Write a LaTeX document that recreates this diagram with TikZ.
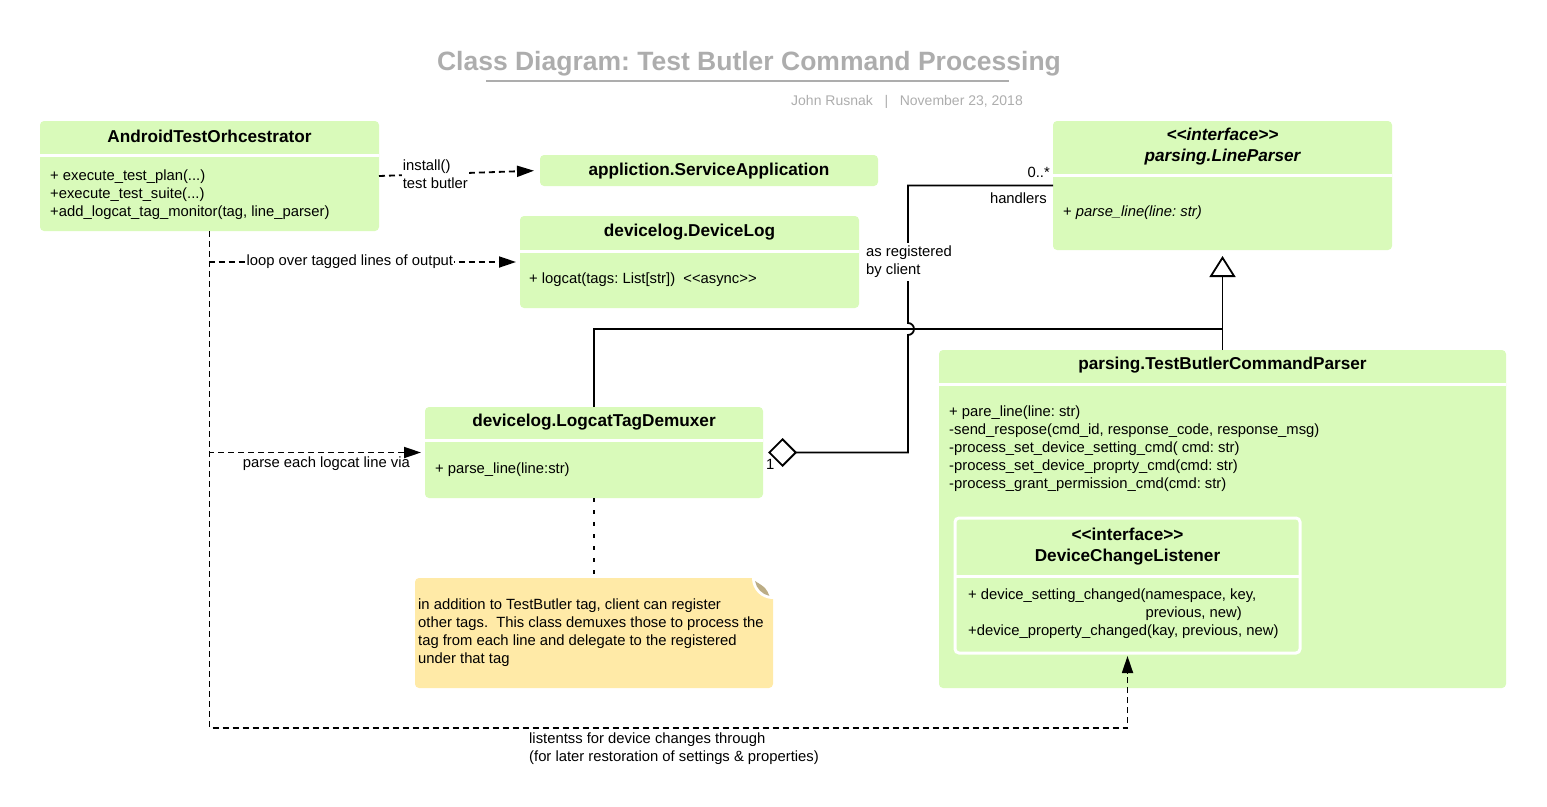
\documentclass[tikz,border=0pt]{standalone}
\usepackage{fontspec}
\setmainfont{Liberation Sans}
\usepackage{xcolor}
\usetikzlibrary{arrows.meta, positioning}
\definecolor{umlgreen}{HTML}{D9FABA}
\definecolor{notefill}{HTML}{FFEAA7}
\definecolor{titlegray}{HTML}{ADADAD}
\definecolor{curlbrown}{HTML}{BCAD85}
\newcommand{\stereo}[1]{<\kern0pt<#1>\kern0pt>}
\frenchspacing

\begin{document}
\begin{tikzpicture}[x=1pt, y=-1pt,
	umlbox/.style={rectangle, rounded corners=4pt, fill=umlgreen, anchor=north west, outer sep=0pt, inner sep=0pt},
	sepline/.style={white, line width=3pt},
	classname/.style={font=\fontsize{17.2}{21}\selectfont\bfseries, align=center, inner sep=0pt},
	members/.style={font=\fontsize{14.8}{18}\selectfont, align=left, anchor=west, inner sep=0pt},
	lbl/.style={font=\fontsize{14.8}{18}\selectfont, align=left, inner sep=1pt},
	dep/.style={line width=1.8pt, dash pattern=on 6pt off 4pt, -{Triangle[length=17pt, width=11pt]}},
	solidline/.style={line width=1.8pt},
	notelink/.style={line width=1.8pt, dash pattern=on 4pt off 8pt}]
	
	\useasboundingbox (0,0) rectangle (1547,806);
	
	% titulo
	\node[font=\fontsize{26.5}{30}\selectfont\bfseries, text=titlegray] (title) at (749,63.5) {Class Diagram: Test Butler Command Processing};
	\draw[titlegray, line width=2pt] (486,81) -- (1009,81);
	\node[font=\fontsize{14}{16}\selectfont, text=titlegray] (author) at (907,101.5) {John Rusnak\ \ \ |\ \ \ November 23, 2018};
	
	% AndroidTestOrhcestrator
	\node[umlbox, minimum width=339, minimum height=110] (orch) at (40,121) {};
	\draw[sepline] (40,155) -- (379,155);
	\node[classname] (orchName) at (209.5,136) {AndroidTestOrhcestrator};
	\node[members] (orchOps) at (50,195) {+ execute\_test\_plan(...)\\+execute\_test\_suite(...)\\+add\_logcat\_tag\_monitor(tag, line\_parser)};
	
	% ServiceApplication
	\node[umlbox, minimum width=338, minimum height=31] (svc) at (540,155) {};
	\node[classname] (svcName) at ([yshift=-0.5]svc.center) {appliction.ServiceApplication};
	
	% DeviceLog
	\node[umlbox, minimum width=339, minimum height=92] (devlog) at (520,216) {};
	\draw[sepline] (520,251) -- (859,251);
	\node[classname] (devlogName) at (689.5,232) {devicelog.DeviceLog};
	\node[members] (devlogOps) at (529,280) {+ logcat(tags: List[str]) \ \stereo{async}};
	
	% LineParser
	\node[umlbox, minimum width=339, minimum height=129] (lp) at (1053,121) {};
	\draw[sepline] (1053,175) -- (1392,175);
	\node[classname, font=\fontsize{17.2}{21}\selectfont\bfseries\itshape] (lpName) at (1222.5,147) {\stereo{interface}\\parsing.LineParser};
	\node[members] (lpOps) at (1063,213) {+ \textit{parse\_line(line: str)}};
	
	% TestButlerCommandParser
	\node[umlbox, minimum width=567, minimum height=338] (tbcp) at (939,350) {};
	\draw[sepline] (939,384) -- (1506,384);
	\node[classname] (tbcpName) at (1222.5,365) {parsing.TestButlerCommandParser};
	\node[members] (tbcpOps) at (949,449) {+ pare\_line(line: str)\\-send\_respose(cmd\_id, response\_code, response\_msg)\\-process\_set\_device\_setting\_cmd( cmd: str)\\-process\_set\_device\_proprty\_cmd(cmd: str)\\-process\_grant\_permission\_cmd(cmd: str)};
	
	% DeviceChangeListener
	\node[umlbox, draw=white, line width=3pt, minimum width=345, minimum height=135] (listener) at (955,518) {};
	\draw[sepline] (955,576) -- (1300,576);
	\node[classname] (listenerName) at (1127.5,547) {\stereo{interface}\\DeviceChangeListener};
	\node[members] (listenerOps) at (968,614) {+ device\_setting\_changed(namespace, key,\\\phantom{+ device\_setting\_changed(}previous, new)\\+device\_property\_changed(kay, previous, new)};
	
	% LogcatTagDemuxer
	\node[umlbox, minimum width=338, minimum height=91] (demux) at (425,407) {};
	\draw[sepline] (425,440.5) -- (763,440.5);
	\node[classname] (demuxName) at (594,422) {devicelog.LogcatTagDemuxer};
	\node[members] (demuxOps) at (435,470) {+ parse\_line(line:str)};
	
	% nota
	\node[umlbox, fill=notefill, minimum width=358, minimum height=110] (note) at (415,578) {};
	\fill[white] (773,578) circle[radius=21];
	\fill[curlbrown] (755,581) arc[start angle=170, end angle=102, radius=18.5] .. controls (766,588) .. (755,581);
	\node[members] (noteText) at (418,633) {in addition to TestButler tag, client can register\\other tags.\ \ This class demuxes those to process the\\tag from each line and delegate to the registered\\under that tag};
	\draw[notelink] (demux.south) -- (note.north);
	
	% dependencias
	\draw[dep, shorten >=6pt] (orch.east) -- (svc.west) node[lbl, pos=0.35, fill=white] (installLbl) {install()\\test butler};
	\draw[dep, shorten >=4pt] (orch.south) |- (devlog.west) node[lbl, pos=0.726, fill=white] (loopLbl) {loop over tagged lines of output};
	\draw[dep, shorten >=4pt] (orch.south) |- (demux.west) node[lbl, pos=0.771, below=2pt] (parseLbl) {parse each logcat line via};
	\coordinate (listenBend) at (1127.5,728);
	\draw[dep, shorten >=3pt] (orch.south) |- (listenBend) -- (listener.south);
	\node[lbl, anchor=north west] (listenLbl) at (528,732) {listentss for device changes through\\(for later restoration of settings \& properties)};
	
	% heranca
	\coordinate (genJoin) at (1222.5,329);
	\draw[solidline] (demux.north) |- (genJoin);
	\draw[solidline, -{Triangle[open, length=21pt, width=26pt]}, shorten >=6pt] (tbcp.north) -- (lp.south);
	
	% agregacao
	\coordinate (hopIn) at (908,335);
	\draw[solidline, {Diamond[open, length=29pt, width=29pt]}-, shorten <=5pt] (demux.east) -| (hopIn) arc[start angle=90, end angle=-90, radius=6] |- (lp.west);
	\node[lbl, anchor=east] (multMany) at (1051,172) {0..*};
	\node[lbl, anchor=east] (roleLbl) at (1048,198) {handlers};
	\node[lbl, anchor=west] (multOne) at (765,464) {1};
	\node[lbl, anchor=west, fill=white, inner sep=3.5pt] (regLbl) at (862.5,262) {as registered\\by client};
\end{tikzpicture}
\end{document}
